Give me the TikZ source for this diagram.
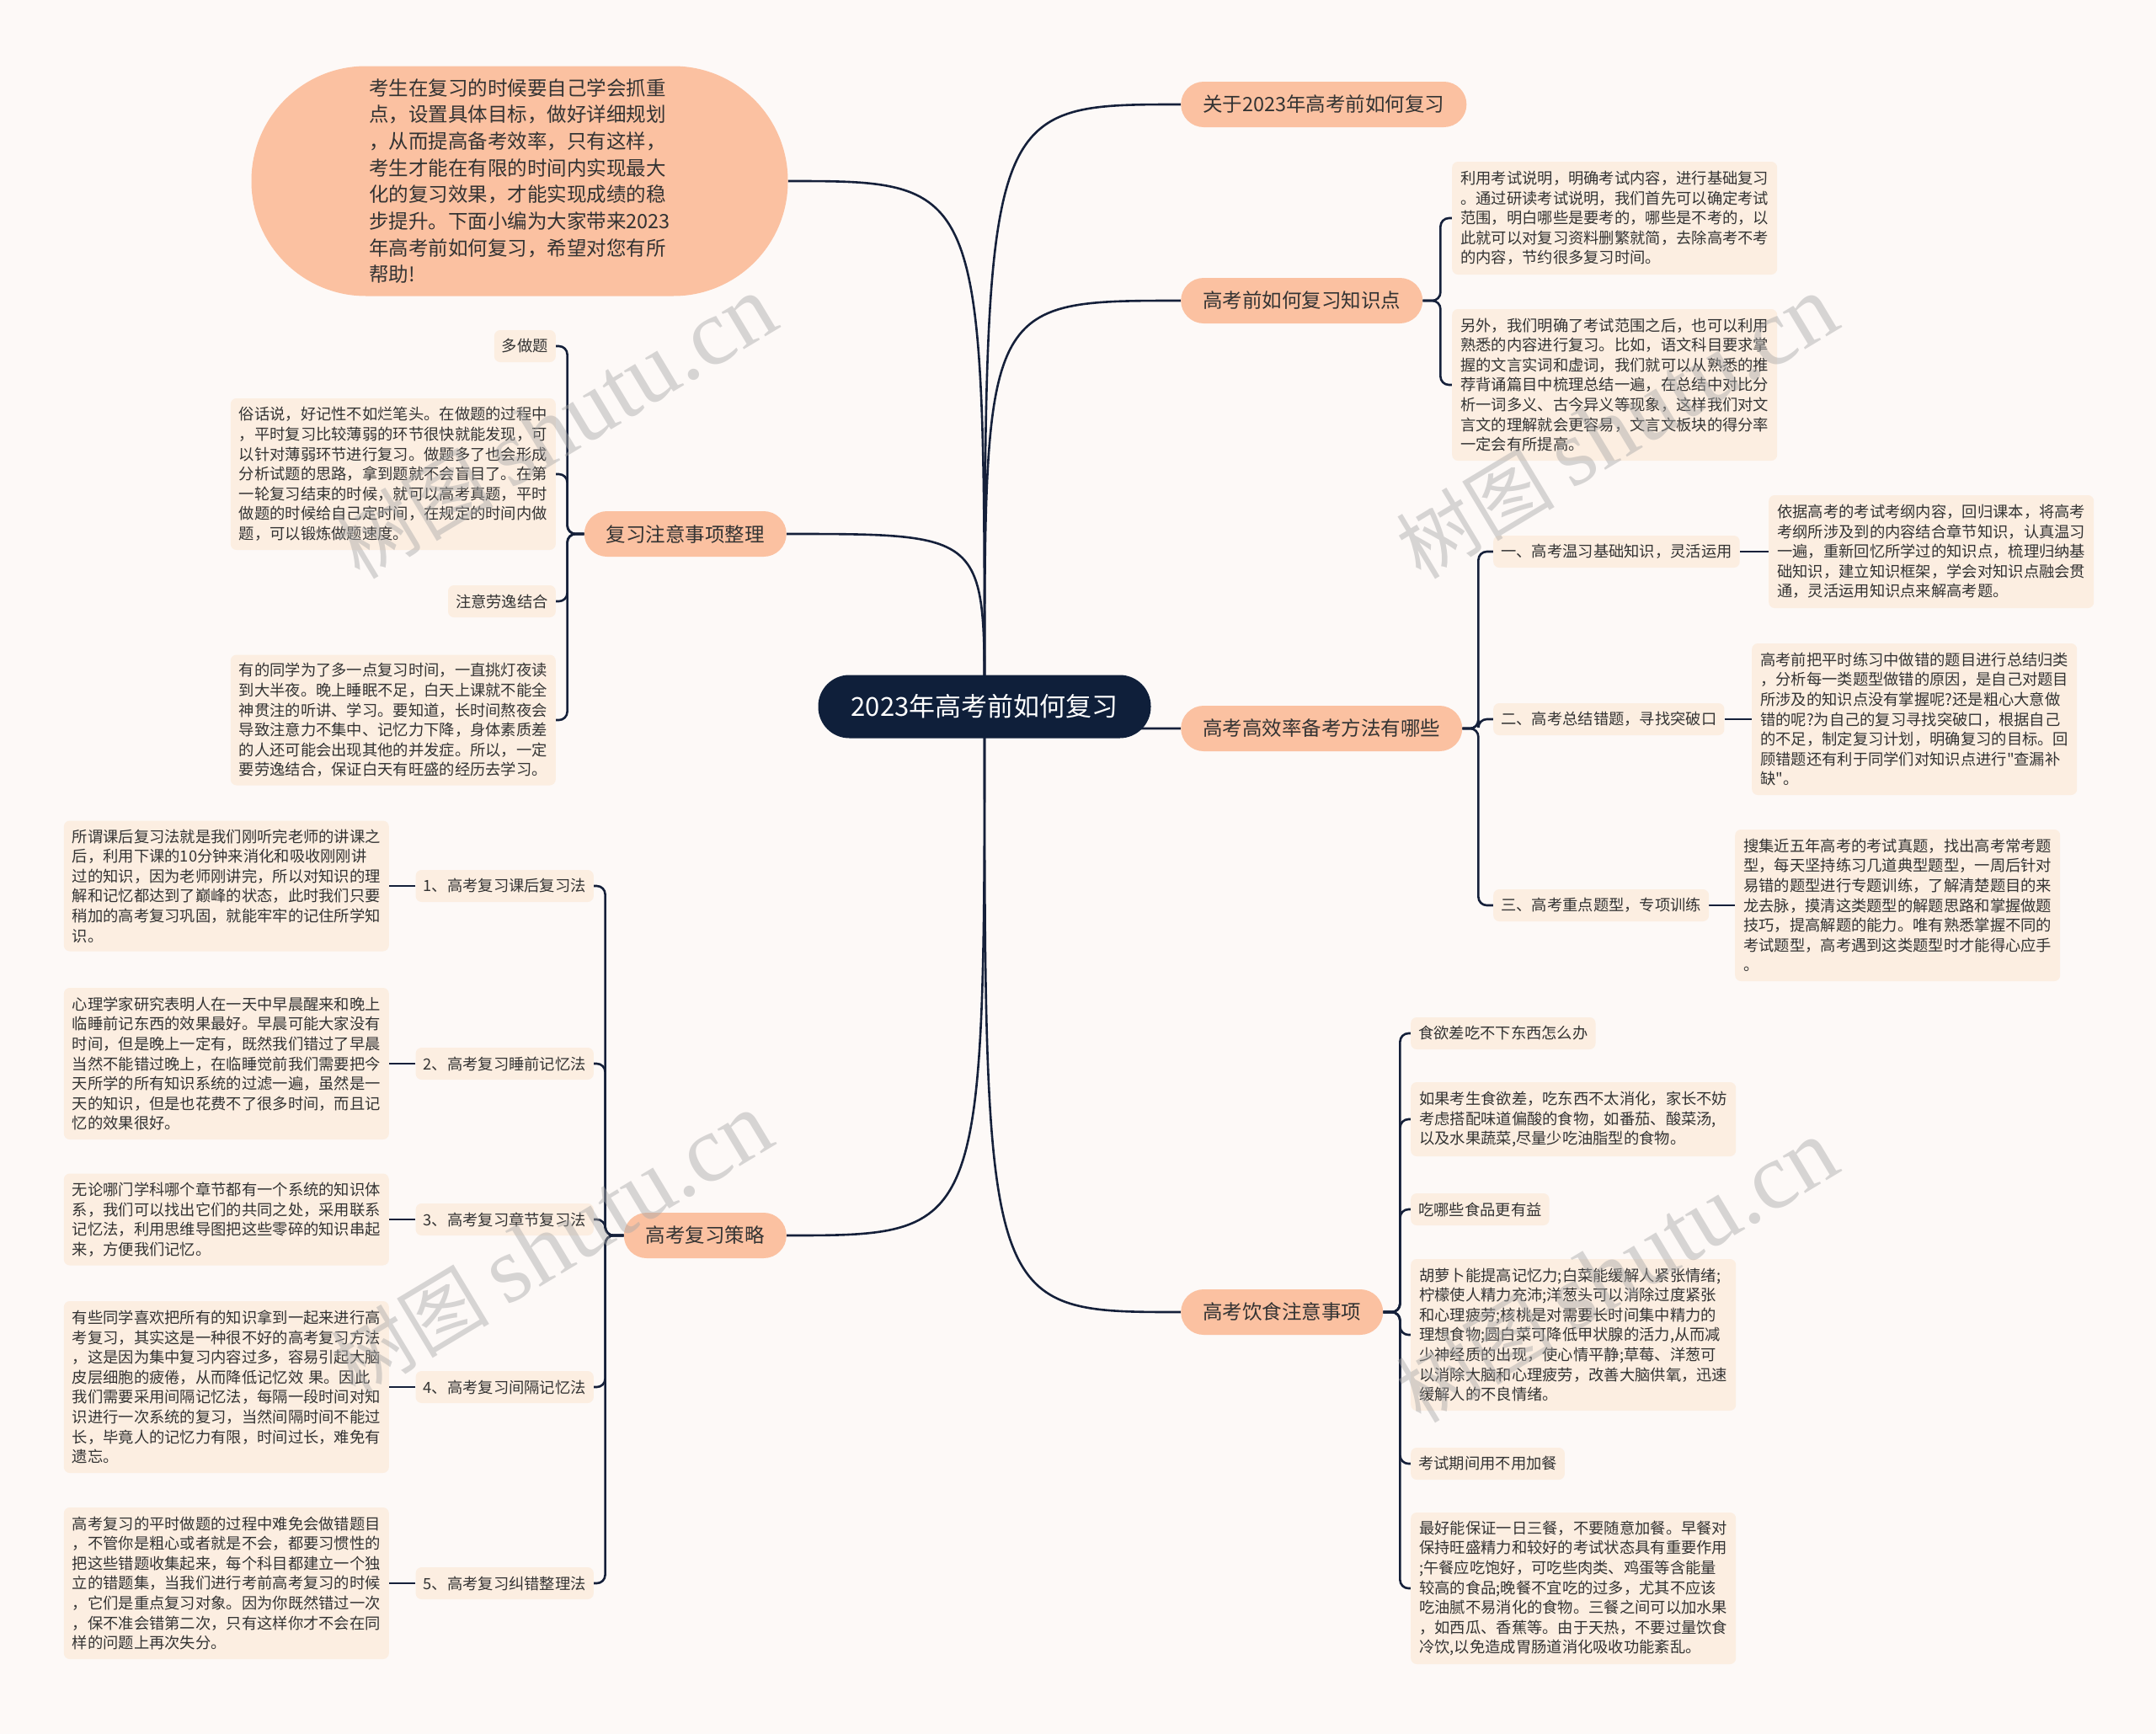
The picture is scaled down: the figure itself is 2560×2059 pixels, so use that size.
\documentclass[tikz,border=0pt]{standalone}
\usepackage{fontspec}
\setmainfont{Noto Sans CJK SC}
\newfontfamily\plainq{Noto Sans CJK SC}
\newfontfamily\wmserif{Liberation Serif}
\newcommand\sq{{\plainq"}}
\definecolor{bgc}{HTML}{FDF9F7}
\definecolor{rootc}{HTML}{0F1F3A}
\definecolor{peach}{HTML}{FBC1A1}
\definecolor{cream}{HTML}{FCEEE1}
\definecolor{linec}{HTML}{15203A}
\definecolor{txt}{HTML}{333333}
\definecolor{wmc}{HTML}{A8A8A8}
\pgfdeclarelayer{back}
\pgfdeclarelayer{edges}
\pgfdeclarelayer{marks}
\pgfsetlayers{back,edges,main,marks}
\tikzset{
  root/.style={fill=rootc, text=white, rounded corners=37pt, minimum width=395pt, minimum height=75pt, inner sep=0pt, font=\fontsize{31}{36}\selectfont},
  branch/.style={fill=peach, text=txt, rounded corners=27pt, minimum height=54pt, inner xsep=26pt, inner ysep=0pt, font=\fontsize{23.5}{28}\selectfont},
  intro/.style={fill=peach, text=txt, rounded corners=136pt, minimum width=637pt, minimum height=273pt, inner sep=0pt, align=left, font=\fontsize{23.5}{31.7}\selectfont},
  subn/.style={fill=cream, text=txt, rounded corners=7pt, minimum height=38pt, inner xsep=9pt, inner ysep=0pt, font=\fontsize{18.3}{22}\selectfont},
  leaf/.style={fill=cream, text=txt, rounded corners=7pt, text width=366pt, align=left, inner xsep=10pt, inner ysep=0pt, minimum height=#1, font=\fontsize{18.3}{23.6}\selectfont},
  trunk/.style={draw=linec, line width=2.6pt},
  conn/.style={draw=linec, line width=2.6pt, rounded corners=10pt},
  wm/.style={text=wmc, text opacity=0.45, rotate=31, font=\fontsize{94}{100}\selectfont}
}
\begin{document}
\begin{tikzpicture}[x=1pt,y=-1pt]
\begin{pgfonlayer}{back}
\fill[bgc] (0,0) rectangle (2560,2059);
\end{pgfonlayer}
\useasboundingbox (0,0) rectangle (2560,2059);

% root and main branches
\node[root] (c) at (1169,839) {2023年高考前如何复习};
\node[branch, anchor=west] (b1) at (1402,124) {关于2023年高考前如何复习};
\node[branch, anchor=west] (b2) at (1402,357) {高考前如何复习知识点};
\node[branch, anchor=west] (b3) at (1402,865) {高考高效率备考方法有哪些};
\node[branch, anchor=west] (b4) at (1402,1558) {高考饮食注意事项};
\node[branch, anchor=east] (b5) at (934,634) {复习注意事项整理};
\node[branch, anchor=east] (b6) at (934,1467) {高考复习策略};
\node[intro] (intro) at (617,215) {考生在复习的时候要自己学会抓重\\点，设置具体目标，做好详细规划\\，从而提高备考效率，只有这样，\\考生才能在有限的时间内实现最大\\化的复习效果，才能实现成绩的稳\\步提升。下面小编为大家带来2023\\年高考前如何复习，希望对您有所\\帮助!};

% b2 leaves
\node[leaf=134pt, anchor=west] (la) at (1724,259) {利用考试说明，明确考试内容，进行基础复习\\。通过研读考试说明，我们首先可以确定考试\\范围，明白哪些是要考的，哪些是不考的，以\\此就可以对复习资料删繁就简，去除高考不考\\的内容，节约很多复习时间。};
\node[leaf=180pt, anchor=west] (lb) at (1724,457) {另外，我们明确了考试范围之后，也可以利用\\熟悉的内容进行复习。比如，语文科目要求掌\\握的文言实词和虚词，我们就可以从熟悉的推\\荐背诵篇目中梳理总结一遍，在总结中对比分\\析一词多义、古今异义等现象，这样我们对文\\言文的理解就会更容易，文言文板块的得分率\\一定会有所提高。};

% b3 children
\node[subn, anchor=west] (s1) at (1773,655) {一、高考温习基础知识，灵活运用};
\node[subn, anchor=west] (s2) at (1773,854) {二、高考总结错题，寻找突破口};
\node[subn, anchor=west] (s3) at (1773,1075) {三、高考重点题型，专项训练};
\node[leaf=134pt, anchor=west] (l1) at (2100,655) {依据高考的考试考纲内容，回归课本，将高考\\考纲所涉及到的内容结合章节知识，认真温习\\一遍，重新回忆所学过的知识点，梳理归纳基\\础知识，建立知识框架，学会对知识点融会贯\\通，灵活运用知识点来解高考题。};
\node[leaf=180pt, anchor=west] (l2) at (2080,854) {高考前把平时练习中做错的题目进行总结归类\\，分析每一类题型做错的原因，是自己对题目\\所涉及的知识点没有掌握呢?还是粗心大意做\\错的呢?为自己的复习寻找突破口，根据自己\\的不足，制定复习计划，明确复习的目标。回\\顾错题还有利于同学们对知识点进行\sq 查漏补\\缺\sq 。};
\node[leaf=180pt, anchor=west] (l3) at (2060,1075) {搜集近五年高考的考试真题，找出高考常考题\\型，每天坚持练习几道典型题型，一周后针对\\易错的题型进行专题训练，了解清楚题目的来\\龙去脉，摸清这类题型的解题思路和掌握做题\\技巧，提高解题的能力。唯有熟悉掌握不同的\\考试题型，高考遇到这类题型时才能得心应手\\。};

% b4 children
\node[subn, anchor=west] (d1) at (1675,1227) {食欲差吃不下东西怎么办};
\node[leaf=88pt, anchor=west] (d2) at (1675,1329) {如果考生食欲差，吃东西不太消化，家长不妨\\考虑搭配味道偏酸的食物，如番茄、酸菜汤,\\以及水果蔬菜,尽量少吃油脂型的食物。};
\node[subn, anchor=west] (d3) at (1675,1436) {吃哪些食品更有益};
\node[leaf=180pt, anchor=west] (d4) at (1675,1585) {胡萝卜能提高记忆力;白菜能缓解人紧张情绪;\\柠檬使人精力充沛;洋葱头可以消除过度紧张\\和心理疲劳;核桃是对需要长时间集中精力的\\理想食物;圆白菜可降低甲状腺的活力,从而减\\少神经质的出现，使心情平静;草莓、洋葱可\\以消除大脑和心理疲劳，改善大脑供氧，迅速\\缓解人的不良情绪。};
\node[subn, anchor=west] (d5) at (1675,1738) {考试期间用不用加餐};
\node[leaf=180pt, anchor=west] (d6) at (1675,1886) {最好能保证一日三餐，不要随意加餐。早餐对\\保持旺盛精力和较好的考试状态具有重要作用\\;午餐应吃饱好，可吃些肉类、鸡蛋等含能量\\较高的食品;晚餐不宜吃的过多，尤其不应该\\吃油腻不易消化的食物。三餐之间可以加水果\\，如西瓜、香蕉等。由于天热，不要过量饮食\\冷饮,以免造成胃肠道消化吸收功能紊乱。};

% b5 children
\node[subn, anchor=east] (n1) at (660,411) {多做题};
\node[leaf=180pt, anchor=east] (n2) at (660,563) {俗话说，好记性不如烂笔头。在做题的过程中\\，平时复习比较薄弱的环节很快就能发现，可\\以针对薄弱环节进行复习。做题多了也会形成\\分析试题的思路，拿到题就不会盲目了。在第\\一轮复习结束的时候，就可以高考真题，平时\\做题的时候给自己定时间，在规定的时间内做\\题，可以锻炼做题速度。};
\node[subn, anchor=east] (n3) at (660,714) {注意劳逸结合};
\node[leaf=155pt, anchor=east] (n4) at (660,855) {有的同学为了多一点复习时间，一直挑灯夜读\\到大半夜。晚上睡眠不足，白天上课就不能全\\神贯注的听讲、学习。要知道，长时间熬夜会\\导致注意力不集中、记忆力下降，身体素质差\\的人还可能会出现其他的并发症。所以，一定\\要劳逸结合，保证白天有旺盛的经历去学习。};

% b6 children
\node[subn, anchor=east] (m1) at (705,1052) {1、高考复习课后复习法};
\node[subn, anchor=east] (m2) at (705,1263) {2、高考复习睡前记忆法};
\node[subn, anchor=east] (m3) at (705,1448) {3、高考复习章节复习法};
\node[subn, anchor=east] (m4) at (705,1647) {4、高考复习间隔记忆法};
\node[subn, anchor=east] (m5) at (705,1880) {5、高考复习纠错整理法};
\node[leaf=155pt, anchor=east] (ml1) at (462,1052) {所谓课后复习法就是我们刚听完老师的讲课之\\后，利用下课的10分钟来消化和吸收刚刚讲\\过的知识，因为老师刚讲完，所以对知识的理\\解和记忆都达到了巅峰的状态，此时我们只要\\稍加的高考复习巩固，就能牢牢的记住所学知\\识。};
\node[leaf=180pt, anchor=east] (ml2) at (462,1263) {心理学家研究表明人在一天中早晨醒来和晚上\\临睡前记东西的效果最好。早晨可能大家没有\\时间，但是晚上一定有，既然我们错过了早晨\\当然不能错过晚上，在临睡觉前我们需要把今\\天所学的所有知识系统的过滤一遍，虽然是一\\天的知识，但是也花费不了很多时间，而且记\\忆的效果很好。};
\node[leaf=109pt, anchor=east] (ml3) at (462,1448) {无论哪门学科哪个章节都有一个系统的知识体\\系，我们可以找出它们的共同之处，采用联系\\记忆法，利用思维导图把这些零碎的知识串起\\来，方便我们记忆。};
\node[leaf=204pt, anchor=east] (ml4) at (462,1647) {有些同学喜欢把所有的知识拿到一起来进行高\\考复习，其实这是一种很不好的高考复习方法\\，这是因为集中复习内容过多，容易引起大脑\\皮层细胞的疲倦，从而降低记忆效 果。因此\\我们需要采用间隔记忆法，每隔一段时间对知\\识进行一次系统的复习，当然间隔时间不能过\\长，毕竟人的记忆力有限，时间过长，难免有\\遗忘。};
\node[leaf=180pt, anchor=east] (ml5) at (462,1880) {高考复习的平时做题的过程中难免会做错题目\\，不管你是粗心或者就是不会，都要习惯性的\\把这些错题收集起来，每个科目都建立一个独\\立的错题集，当我们进行考前高考复习的时候\\，它们是重点复习对象。因为你既然错过一次\\，保不准会错第二次，只有这样你才不会在同\\样的问题上再次失分。};

\begin{pgfonlayer}{edges}
\foreach \t in {b1,b2,b3,b4}
  \draw[trunk] (c.center) .. controls (c.center |- \t.west) .. (\t.west);
\foreach \t in {b5,b6,intro}
  \draw[trunk] (c.center) .. controls (c.center |- \t.east) .. (\t.east);
\foreach \t in {la,lb}
  \draw[conn] (b2.east) -- ++(21,0) |- (\t.west);
\foreach \t in {s1,s2,s3}
  \draw[conn] (b3.east) -- ++(19,0) |- (\t.west);
\draw[conn] (s1.east) -- (l1.west);
\draw[conn] (s2.east) -- (l2.west);
\draw[conn] (s3.east) -- (l3.west);
\foreach \t in {d1,d2,d3,d4,d5,d6}
  \draw[conn] (b4.east) -- ++(20,0) |- (\t.west);
\foreach \t in {n1,n2,n3,n4}
  \draw[conn] (b5.west) -- ++(-20,0) |- (\t.east);
\foreach \t in {m1,m2,m3,m4,m5}
  \draw[conn] (b6.west) -- ++(-22,0) |- (\t.east);
\foreach \i in {1,2,3,4,5}
  \draw[conn] (m\i.west) -- (ml\i.east);
\end{pgfonlayer}

\begin{pgfonlayer}{marks}
\node[wm] (w1) at (660,508) {树图 {\wmserif\fontsize{112}{116}\selectfont shutu.cn}};
\node[wm] (w2) at (1920,508) {树图 {\wmserif\fontsize{112}{116}\selectfont shutu.cn}};
\node[wm] (w3) at (655,1478) {树图 {\wmserif\fontsize{112}{116}\selectfont shutu.cn}};
\node[wm] (w4) at (1920,1510) {树图 {\wmserif\fontsize{112}{116}\selectfont shutu.cn}};
\end{pgfonlayer}
\end{tikzpicture}
\end{document}
